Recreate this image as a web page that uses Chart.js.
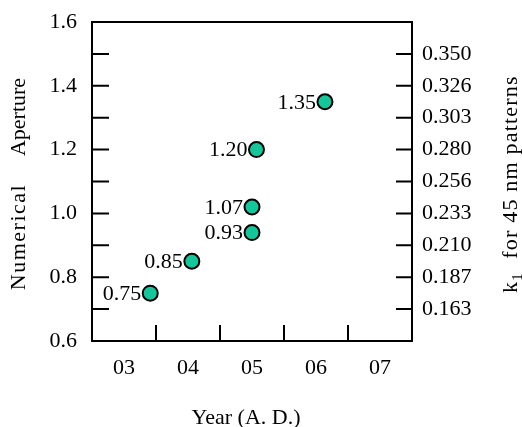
<!DOCTYPE html>
<html>
<head>
<meta charset="utf-8">
<script src="https://cdn.jsdelivr.net/npm/chart.js@4"></script>
<style>
  html, body { margin: 0; padding: 0; background: #fff; }
  #wrap { width: 522px; height: 427px; }
</style>
</head>
<body>
<div id="wrap"><canvas id="naChart"></canvas></div>
<script>
// data
const years = [3.41, 4.06, 5.0, 5.0, 5.07, 6.14];           // x position (year of 2000s)
const apertures = [0.75, 0.85, 0.94, 1.02, 1.20, 1.35];     // plotted NA
const pointLabels = ['0.75', '0.85', '0.93', '1.07', '1.20', '1.35'];

// axis ticks
const yearTicks = [3, 4, 5, 6, 7];
const yearLabels = ['03', '04', '05', '06', '07'];
const yearMarks = [3.5, 4.5, 5.5, 6.5];                      // tick marks between years
const naTicks = [0.6, 0.8, 1.0, 1.2, 1.4, 1.6];
const naMarks = [0.7, 0.8, 0.9, 1.0, 1.1, 1.2, 1.3, 1.4, 1.5];
const k1Labels = ['0.163', '0.187', '0.210', '0.233', '0.256', '0.280', '0.303', '0.326', '0.350'];

const serif = "'Liberation Serif', 'Times New Roman', serif";

// draws the box top, the inward tick marks, the point labels and the titles
const extras = {
  id: 'extras',
  afterDraw(chart) {
    const ctx = chart.ctx;
    const area = chart.chartArea;
    const x = chart.scales.x, y = chart.scales.y;
    ctx.save();
    ctx.strokeStyle = '#000';
    ctx.lineWidth = 2;
    ctx.beginPath();
    ctx.moveTo(area.left - 1, area.top);
    ctx.lineTo(area.right + 1, area.top);
    naMarks.forEach(v => {
      const py = y.getPixelForValue(v);
      ctx.moveTo(area.left, py); ctx.lineTo(area.left + 17, py);
      ctx.moveTo(area.right, py); ctx.lineTo(area.right - 16, py);
    });
    yearMarks.forEach(v => {
      const px = x.getPixelForValue(v);
      ctx.moveTo(px, area.bottom); ctx.lineTo(px, area.bottom - 16);
    });
    ctx.stroke();

    // value labels left of each point
    ctx.fillStyle = '#000';
    ctx.font = '22px ' + serif;
    ctx.textAlign = 'right';
    ctx.textBaseline = 'middle';
    chart.getDatasetMeta(0).data.forEach((pt, i) => {
      ctx.fillText(pointLabels[i], pt.x - 9, pt.y + 1);
    });

    // x title
    ctx.textAlign = 'center';
    ctx.textBaseline = 'alphabetic';
    ctx.fillText('Year (A. D.)', 246, 424);

    // left title, two words spaced apart
    ctx.save();
    ctx.translate(25, 0);
    ctx.rotate(-Math.PI / 2);
    ctx.fillText('Aperture', -117, 0);
    ctx.letterSpacing = '1.5px';
    ctx.fillText('Numerical', -237, 0);
    ctx.restore();

    // right title with subscript
    ctx.save();
    ctx.translate(517, 293);
    ctx.rotate(-Math.PI / 2);
    ctx.textAlign = 'left';
    ctx.letterSpacing = '1.2px';
    ctx.fillText('k', 0, 0);
    let w = ctx.measureText('k').width;
    ctx.font = '15px ' + serif;
    ctx.fillText('1', w, 5);
    w += ctx.measureText('1').width;
    ctx.font = '22px ' + serif;
    ctx.fillText('  for 45 nm patterns', w, 0);
    ctx.restore();

    ctx.restore();
  }
};

const tickFont = { family: serif, size: 22 };
const noPad = s => { s.paddingTop = 0; s.paddingBottom = 0; };

new Chart(document.getElementById('naChart'), {
  type: 'scatter',
  data: {
    datasets: [{
      data: years.map((yr, i) => ({ x: yr, y: apertures[i] })),
      pointRadius: 7.5,
      pointHoverRadius: 7.5,
      pointBackgroundColor: '#14c79b',
      pointBorderColor: '#000',
      pointBorderWidth: 2
    }]
  },
  options: {
    responsive: true,
    maintainAspectRatio: false,
    animation: false,
    layout: { padding: { top: 22, left: 0, right: 0, bottom: 0 } },
    plugins: { legend: { display: false }, tooltip: { enabled: false } },
    scales: {
      x: {
        type: 'linear',
        min: 2.5,
        max: 7.5,
        afterBuildTicks: s => { s.ticks = yearTicks.map(v => ({ value: v })); },
        afterFit: s => { s.height = 86; s.paddingLeft = 0; s.paddingRight = 0; },
        grid: { display: false, drawTicks: false },
        border: { display: true, color: '#000', width: 2 },
        ticks: {
          autoSkip: false, maxRotation: 0, padding: 14,
          color: '#000', font: tickFont,
          callback: (v, i) => yearLabels[i]
        }
      },
      y: {
        position: 'left',
        min: 0.6,
        max: 1.6,
        afterBuildTicks: s => { s.ticks = naTicks.map(v => ({ value: v })); },
        afterFit: s => { s.width = 92; noPad(s); },
        grid: { display: false, drawTicks: false },
        border: { display: true, color: '#000', width: 2 },
        ticks: {
          autoSkip: false, padding: 15,
          color: '#000', font: tickFont,
          callback: v => v.toFixed(1)
        }
      },
      y2: {
        position: 'right',
        min: 0.6,
        max: 1.6,
        afterBuildTicks: s => { s.ticks = naMarks.map(v => ({ value: v })); },
        afterFit: s => { s.width = 110; noPad(s); },
        grid: { display: false, drawTicks: false },
        border: { display: true, color: '#000', width: 2 },
        ticks: {
          autoSkip: false, padding: 10,
          color: '#000', font: tickFont,
          callback: (v, i) => k1Labels[i]
        }
      }
    }
  },
  plugins: [extras]
});
</script>
</body>
</html>
